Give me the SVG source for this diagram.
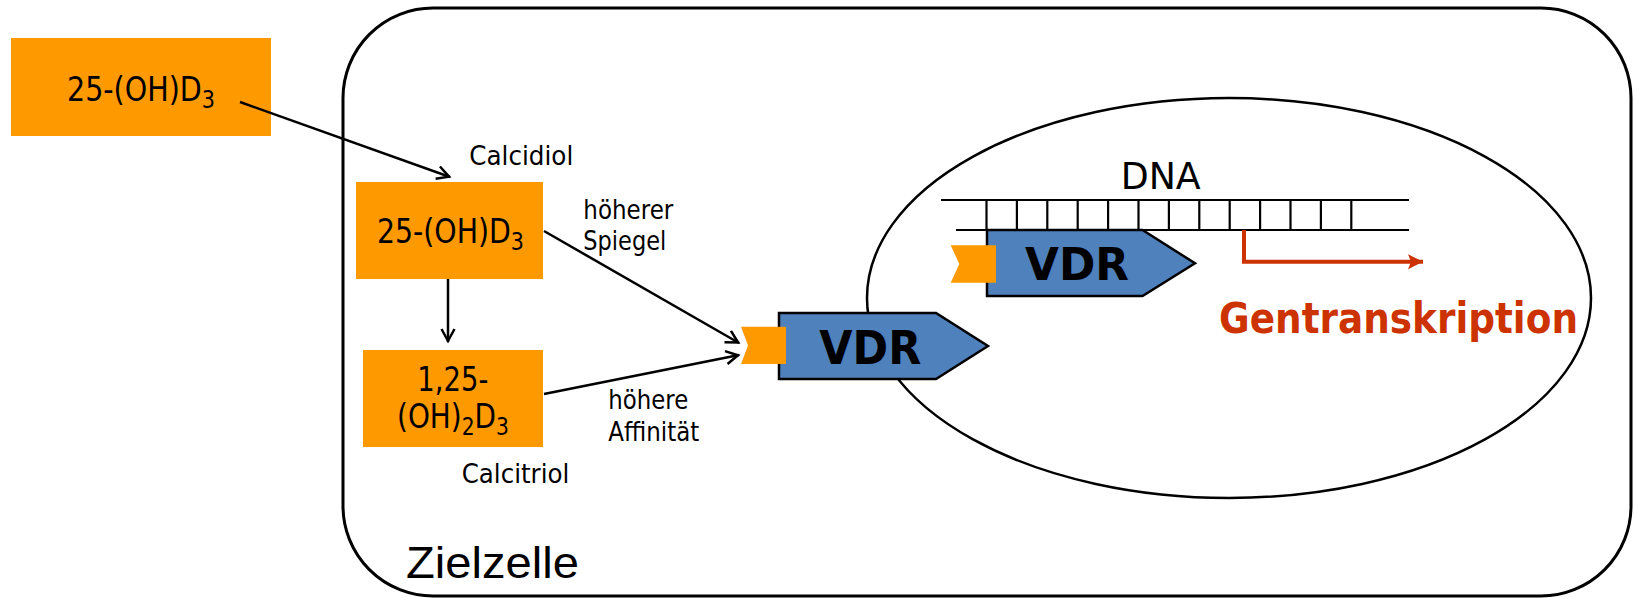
<svg xmlns="http://www.w3.org/2000/svg" width="1634" height="598" viewBox="0 0 1634 598">
<style>
.orange{fill:#FF9900;stroke:none}
.vdr{fill:#4F81BD;stroke:#000;stroke-width:2.5;stroke-linejoin:miter}
.t{font-family:"DejaVu Sans","Liberation Sans",sans-serif;fill:#000}
.lbl{font-family:"DejaVu Sans","Liberation Sans",sans-serif;font-size:26.5px;fill:#000}
.box{font-family:"DejaVu Sans","Liberation Sans",sans-serif;font-size:33px;fill:#000;text-anchor:middle}
.bold{font-family:"DejaVu Sans","Liberation Sans",sans-serif;font-weight:bold}
.conn{stroke:#000;stroke-width:2.5;fill:none}
.dna{stroke:#000;stroke-width:2.2;fill:none}
</style>
<defs>
<marker id="ah" markerUnits="userSpaceOnUse" markerWidth="24" markerHeight="24" viewBox="-18 -12 24 24" refX="0" refY="0" orient="auto">
<path d="M-13,-6.5 L-1,0 L-13,6.5" fill="none" stroke="#000" stroke-width="2.5"/>
</marker>
<marker id="ahr" markerUnits="userSpaceOnUse" markerWidth="24" markerHeight="24" viewBox="-18 -12 24 24" refX="0" refY="0" orient="auto">
<path d="M-15,-7.5 L0,0 L-15,7.5 L-12,0 Z" fill="#CC3300"/>
</marker>
</defs>

<g id="zielzelle">
<rect x="343" y="8" width="1288" height="588" rx="90" ry="90" fill="#fff" stroke="#000" stroke-width="3"/>
<text x="406" y="578" font-family="Liberation Sans, Arial, sans-serif" font-size="45" textLength="173" lengthAdjust="spacingAndGlyphs">Zielzelle</text>
</g>

<g id="zellkern">
<ellipse cx="1229" cy="298" rx="362" ry="200" fill="none" stroke="#000" stroke-width="2.5"/>
</g>

<g id="dna">
<line class="dna" x1="941" y1="200" x2="1409" y2="200"/>
<line class="dna" x1="956" y1="230" x2="1409" y2="230"/>
<path class="dna" d="M986.5,200V230M1016.9,200V230M1047.3,200V230M1077.7,200V230M1108.1,200V230M1138.5,200V230M1168.9,200V230M1199.3,200V230M1229.7,200V230M1260.1,200V230M1290.5,200V230M1320.9,200V230M1351.3,200V230"/>
<text class="t" x="1120.7" y="189.3" font-size="38" textLength="80" lengthAdjust="spacingAndGlyphs">DNA</text>
</g>

<g id="vdr-dna">
<polygon class="vdr" points="987,230 1142.5,230 1195,263.3 1142.5,296 987,296"/>
<polygon class="orange" points="950.7,245.3 996,245.3 996,282.7 950.7,282.7 959.3,264"/>
<text class="bold" x="1025" y="280" font-size="45" textLength="104" lengthAdjust="spacingAndGlyphs">VDR</text>
</g>

<g id="gentranskription">
<text class="bold" x="1219" y="333" font-size="43" fill="#CC3300" textLength="359" lengthAdjust="spacingAndGlyphs">Gentranskription</text>
</g>

<g id="box-extern">
<rect class="orange" x="11" y="38" width="260" height="98"/>
<text class="box" x="141" y="100.7" textLength="148" lengthAdjust="spacingAndGlyphs">25-(OH)D<tspan font-size="24" dy="7">3</tspan></text>
</g>

<g id="box-calcidiol">
<rect class="orange" x="356" y="182" width="187" height="97"/>
<text class="box" x="450.5" y="242.7" textLength="147" lengthAdjust="spacingAndGlyphs">25-(OH)D<tspan font-size="24" dy="7">3</tspan></text>
<text class="lbl" x="469.3" y="165" textLength="104" lengthAdjust="spacingAndGlyphs">Calcidiol</text>
</g>

<g id="box-calcitriol">
<rect class="orange" x="363" y="350" width="180" height="97"/>
<text class="box" x="452.8" y="391" textLength="71" lengthAdjust="spacingAndGlyphs">1,25-</text>
<text class="box" x="453" y="428" textLength="112" lengthAdjust="spacingAndGlyphs">(OH)<tspan font-size="24" dy="7">2</tspan><tspan dy="-7">D</tspan><tspan font-size="24" dy="7">3</tspan></text>
<text class="lbl" x="461.7" y="482.7" textLength="107.6" lengthAdjust="spacingAndGlyphs">Calcitriol</text>
</g>

<g id="labels">
<text class="lbl" x="583.3" y="219" textLength="90" lengthAdjust="spacingAndGlyphs">höherer</text>
<text class="lbl" x="583.3" y="250" textLength="83" lengthAdjust="spacingAndGlyphs">Spiegel</text>
<text class="lbl" x="608.3" y="409.3" textLength="80" lengthAdjust="spacingAndGlyphs">höhere</text>
<text class="lbl" x="608.3" y="441" textLength="91" lengthAdjust="spacingAndGlyphs">Affinität</text>
</g>

<g id="connectors">
<line class="conn" x1="240" y1="102" x2="450" y2="177" marker-end="url(#ah)"/>
<line class="conn" x1="448" y1="279" x2="448" y2="342" marker-end="url(#ah)"/>
<line class="conn" x1="544" y1="231" x2="739" y2="343" marker-end="url(#ah)"/>
<line class="conn" x1="544" y1="394" x2="739" y2="355" marker-end="url(#ah)"/>
<path d="M1244,230 V261.7 H1423" fill="none" stroke="#CC3300" stroke-width="4" marker-end="url(#ahr)"/>
</g>

<g id="vdr">
<polygon class="vdr" points="779,313 936,313 988,346 936,379 779,379"/>
<polygon class="orange" points="741,326.7 786,326.7 786,364 741,364 748,345.5"/>
<text class="bold" x="819.3" y="364" font-size="46" textLength="102" lengthAdjust="spacingAndGlyphs">VDR</text>
</g>
</svg>
